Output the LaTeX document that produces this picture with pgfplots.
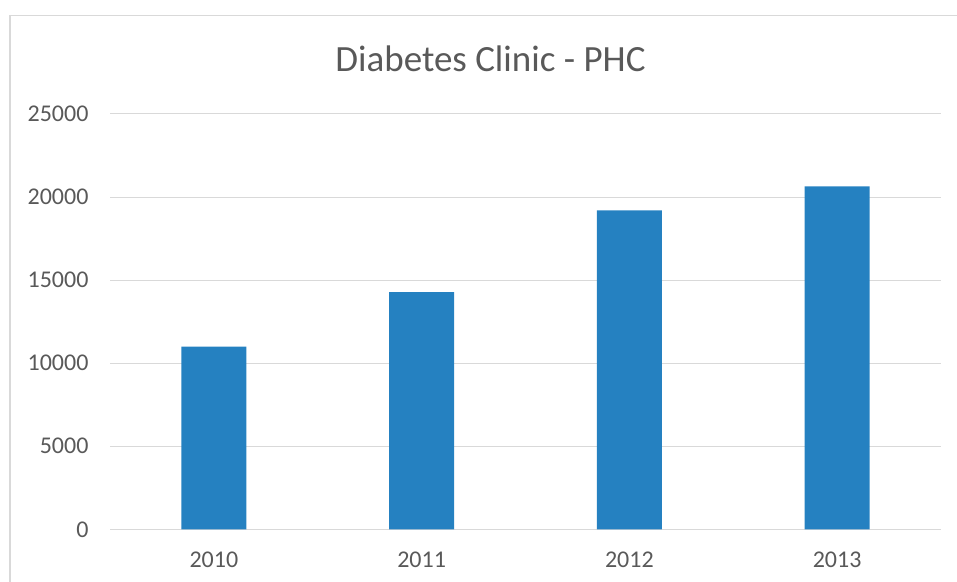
\documentclass[border=0pt]{standalone}
\usepackage{fontspec}
\setmainfont{Carlito}
\usepackage{pgfplots}
\pgfplotsset{compat=1.18}
\definecolor{barblue}{RGB}{37,129,193}
\definecolor{gridgray}{RGB}{217,217,217}
\definecolor{txtgray}{RGB}{89,89,89}

\begin{document}
\begin{tikzpicture}
  \useasboundingbox (0pt,0pt) rectangle (957pt,581pt);
  % chart frame (runs off the right and bottom edges)
  \draw[gridgray, line width=1.5pt] (10pt,-5pt) -- (10pt,565.7pt) -- (962pt,565.7pt);
  \node[txtgray, font=\fontsize{37}{40}\selectfont, anchor=base] at (490.5pt,509.3pt) {Diabetes Clinic - PHC};
  \begin{axis}[
      at={(110pt,51.7pt)}, anchor=south west,
      scale only axis, width=831pt, height=415.3pt,
      ybar, bar width=65pt,
      xmin=-0.5, xmax=3.5, ymin=0, ymax=25000,
      xtick=data, xticklabels={2010,2011,2012,2013},
      ytick={0,5000,...,25000},
      axis line style={draw=none},
      axis x line*=bottom, axis y line*=left,
      major tick length=0pt,
      ymajorgrids, grid style={gridgray, line width=1pt},
      extra y ticks={0}, extra y tick labels={},
      extra y tick style={grid style={gridgray, line width=1.3pt}},
      scaled y ticks=false,
      /pgf/number format/assume math mode=true,
      /pgf/number format/set thousands separator={},
      ticklabel style={txtgray, font=\fontsize{24}{28}\selectfont},
      yticklabel style={anchor=east, xshift=-18pt},
      xticklabel style={anchor=base, yshift=-38.5pt},
    ]
    \addplot[fill=barblue, draw=none] coordinates {(0,11000) (1,14270) (2,19200) (3,20650)};
  \end{axis}
\end{tikzpicture}
\end{document}
